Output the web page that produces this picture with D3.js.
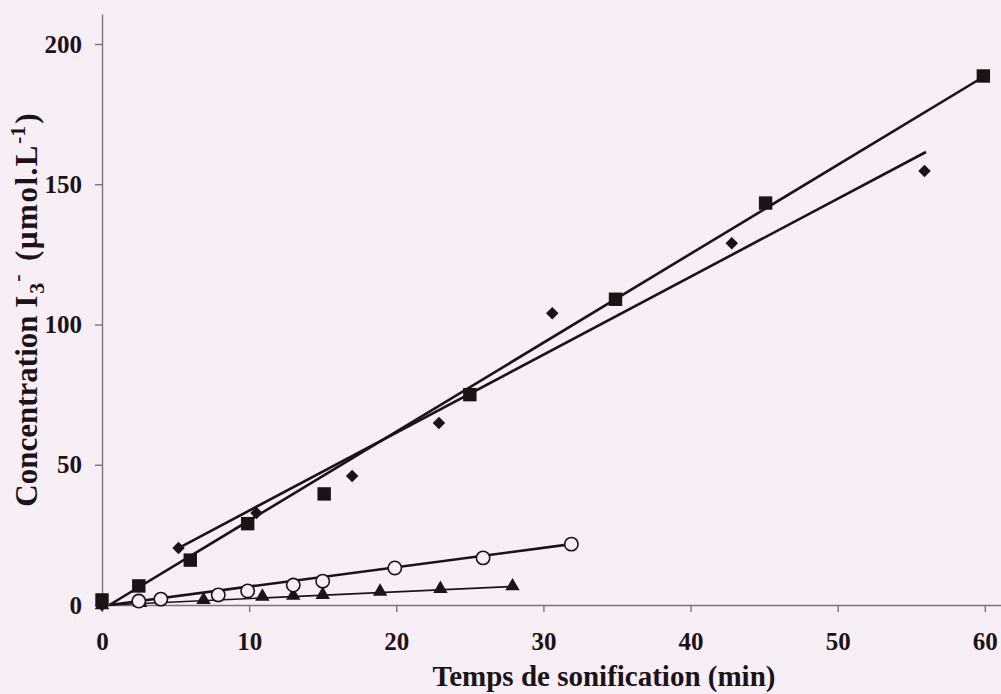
<!DOCTYPE html>
<html><head><meta charset="utf-8">
<script src="https://cdn.jsdelivr.net/npm/d3@7"></script>
<style>
html,body{margin:0;padding:0;background:#f8eff6;}
svg{display:block;}
text{font-family:"Liberation Serif","Times New Roman",serif;font-weight:bold;fill:#1c1218;}
</style></head><body>
<svg id="c" width="1001" height="694"></svg>
<script>
// Data (time in min, concentration in µmol/L)
const squareX = [0, 2.5, 6, 9.9, 15.1, 25, 34.9, 45.1, 59.9];
const squareY = [1.8, 6.8, 16, 29, 39.6, 75, 109, 143.3, 188.6];
const diamondX = [0, 5.2, 10.5, 17.0, 22.9, 30.6, 42.8, 55.9];
const diamondY = [0, 20.3, 32.8, 46, 64.9, 104, 129, 154.7];
const circleX = [2.5, 4, 7.9, 9.9, 13, 15, 19.9, 25.9, 31.9];
const circleY = [1.4, 2.1, 3.6, 5, 7.1, 8.5, 13.2, 16.8, 21.7];
const triangleX = [0, 2.6, 6.9, 10.9, 13, 15, 18.9, 23, 27.9];
const triangleY = [0, 0.8, 1.8, 3.0, 3.4, 3.6, 4.8, 5.8, 6.7];
// Trend line end points [x0, y0, x1, y1]
const squareFit = [0.5, 0, 60, 188.6];
const diamondFit = [5.2, 20.3, 56, 161.5];
const circleFit = [0.5, 0, 31.9, 21.7];
const triangleFit = [0.5, 0, 27.9, 6.6];
const xTicks = [0, 10, 20, 30, 40, 50, 60];
const yTicks = [0, 50, 100, 150, 200];

const svg = d3.select("#c");
const x = d3.scaleLinear().domain([0, 61.1]).range([102, 1001]);
const y = d3.scaleLinear().domain([0, 210.7]).range([605, 14]);
const ink = "#1c1218";
const axisCol = "#7a7478";

// Axes
const gx = svg.append("g").attr("transform", "translate(0,605)")
  .call(d3.axisBottom(x).tickValues(xTicks).tickSize(7).tickPadding(20).tickSizeOuter(0));
const gy = svg.append("g").attr("transform", "translate(102,0)")
  .call(d3.axisLeft(y).tickValues(yTicks).tickSize(7).tickPadding(13).tickSizeOuter(0));
[gx, gy].forEach(g => {
  g.select(".domain").attr("stroke", axisCol).attr("stroke-width", 1.4);
  g.selectAll(".tick line").attr("stroke", axisCol).attr("stroke-width", 1.4);
  g.selectAll(".tick text").attr("font-size", 25).attr("fill", ink)
    .attr("font-family", "Liberation Serif, serif").attr("font-weight", "bold");
});

// Titles
svg.append("text").attr("x", 604).attr("y", 686).attr("text-anchor", "middle")
  .attr("font-size", 29).text("Temps de sonification (min)");
const yt = svg.append("text").attr("transform", "translate(37,310) rotate(-90)")
  .attr("text-anchor", "middle").attr("font-size", 31);
yt.append("tspan").text("Concentration I");
yt.append("tspan").attr("font-size", 22).attr("dx", 2).attr("dy", 7).text("3");
yt.append("tspan").attr("font-size", 22).attr("dx", 1).attr("dy", -20).text("-");
yt.append("tspan").attr("dx", 4).attr("dy", 13).attr("letter-spacing", 1.5).text(" (µmol.L");
yt.append("tspan").attr("font-size", 22).attr("dy", -12).text("-1");
yt.append("tspan").attr("dx", 2).attr("dy", 12).text(")");

// Trend lines
function fitLine(f, w) {
  svg.append("line").attr("x1", x(f[0])).attr("y1", y(f[1]))
    .attr("x2", x(f[2])).attr("y2", y(f[3]))
    .attr("stroke", ink).attr("stroke-width", w);
}
fitLine(squareFit, 2.6);
fitLine(diamondFit, 2.6);
fitLine(circleFit, 2.6);
fitLine(triangleFit, 1.6);

// Markers
function markers(xs, ys, type, size, fill, stroke) {
  svg.append("g").selectAll("path").data(xs).join("path")
    .attr("transform", (d, i) => `translate(${x(d)},${y(ys[i])})`)
    .attr("d", d3.symbol().type(type).size(size))
    .attr("fill", fill).attr("stroke", stroke).attr("stroke-width", 1.6);
}
markers(triangleX, triangleY, d3.symbolTriangle, 90, ink, "none");
markers(circleX, circleY, d3.symbolCircle, 140, "#f8eff6", ink);
markers(diamondX, diamondY, d3.symbolDiamond2, 100, ink, "none");
markers(squareX, squareY, d3.symbolSquare, 180, ink, "none");
</script>
</body></html>
